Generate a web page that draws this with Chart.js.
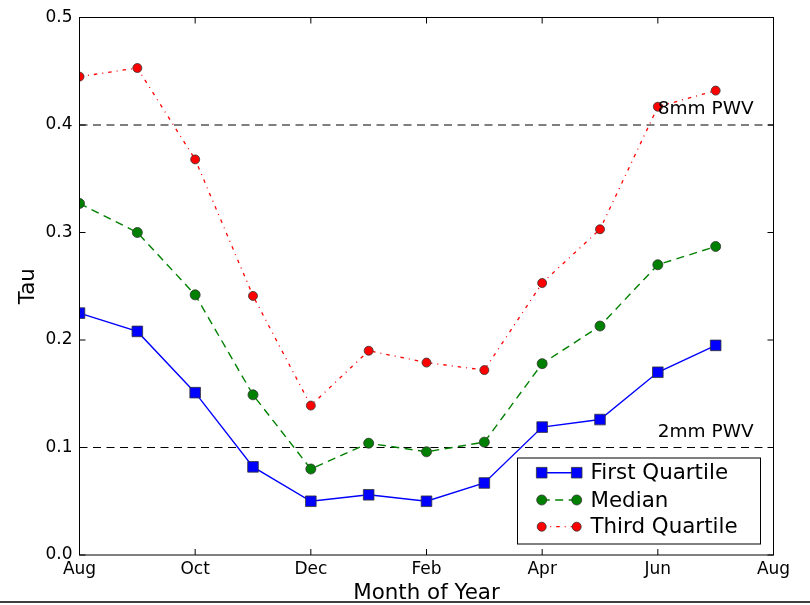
<!DOCTYPE html>
<html><head><meta charset="utf-8">
<script src="https://cdn.jsdelivr.net/npm/chart.js@4.4.0/dist/chart.umd.min.js"></script>
<style>html,body{margin:0;padding:0;background:#fff;}canvas{display:block}</style>
</head><body>
<canvas id="c" width="810" height="605"></canvas>
<script>
// ---- data ----
const monthIndex = [0,1,2,3,4,5,6,7,8,9,10,11];   // Aug ... Jul
const monthNames = ['Aug','Sep','Oct','Nov','Dec','Jan','Feb','Mar','Apr','May','Jun','Jul'];
const xTickLabels = ['Aug','Oct','Dec','Feb','Apr','Jun','Aug'];
const firstQuartile = [0.225,0.208,0.151,0.082,0.050,0.056,0.050,0.067,0.119,0.126,0.170,0.195];
const median        = [0.327,0.300,0.242,0.149,0.080,0.104,0.096,0.105,0.178,0.213,0.270,0.287];
const thirdQuartile = [0.445,0.453,0.368,0.241,0.139,0.190,0.179,0.172,0.253,0.303,0.417,0.432];
const pwvLevels = [0.1, 0.4];
const pwvLabels = ['2mm PWV', '8mm PWV'];
const pwvLabelX = 10; // Jun
const seriesNames = ['First Quartile','Median','Third Quartile'];

const FONT = "'DejaVu Sans', sans-serif";
const pts = arr => arr.map((v,i)=>({x: monthIndex[i], y: v}));

const series = [
  {label: seriesNames[0], data: pts(firstQuartile), borderColor:'#0000ff', backgroundColor:'#0000ff',
   pointBackgroundColor:'#0000ff', pointStyle:'rect', pointRadius:7.5, borderDash:[], borderWidth:1.4},
  {label: seriesNames[1], data: pts(median), borderColor:'#008000', backgroundColor:'#008000',
   pointBackgroundColor:'#008000', pointStyle:'circle', pointRadius:5, borderDash:[8,5.5], borderWidth:1.4},
  {label: seriesNames[2], data: pts(thirdQuartile), borderColor:'#ff0000', backgroundColor:'#ff0000',
   pointBackgroundColor:'#ff0000', pointStyle:'circle', pointRadius:4.5, borderDash:[3.5,5,1,5], borderWidth:1.3}
].map(d=>Object.assign(d,{pointBorderColor:'#333', pointBorderWidth:0.8, pointHoverRadius:d.pointRadius, tension:0, fill:false, order:0}));

const refLines = pwvLevels.map((v,i)=>({
  label: pwvLabels[i], data:[{x:0,y:v},{x:12,y:v}], borderColor:'#000', borderWidth:1.2,
  borderDash:[8,5.5], pointRadius:0, fill:false, order:5, isRef:true
}));

const decor = {
  id:'decor',
  afterDraw(chart){
    const ctx = chart.ctx, a = chart.chartArea;
    const xs = chart.scales.x, ys = chart.scales.y;
    ctx.save();
    // frame
    ctx.strokeStyle = '#000'; ctx.lineWidth = 1; ctx.setLineDash([]);
    ctx.strokeRect(a.left, a.top, a.right-a.left, a.bottom-a.top);
    // inward ticks on all sides
    const tl = 6;
    ctx.beginPath();
    xs.ticks.forEach(t=>{
      const px = xs.getPixelForValue(t.value);
      ctx.moveTo(px, a.bottom); ctx.lineTo(px, a.bottom - tl);
      ctx.moveTo(px, a.top); ctx.lineTo(px, a.top + tl);
    });
    ys.ticks.forEach(t=>{
      const py = ys.getPixelForValue(t.value);
      ctx.moveTo(a.left, py); ctx.lineTo(a.left + tl, py);
      ctx.moveTo(a.right, py); ctx.lineTo(a.right - tl, py);
    });
    ctx.stroke();
    // PWV labels
    ctx.fillStyle = '#000';
    ctx.font = '18.5px ' + FONT;
    ctx.textAlign = 'left'; ctx.textBaseline = 'alphabetic';
    pwvLevels.forEach((v,i)=>{
      ctx.fillText(pwvLabels[i], xs.getPixelForValue(pwvLabelX), ys.getPixelForValue(v) - 11);
    });
    // legend
    const bx = 517.5, by = 458, bw = 243, bh = 86;
    ctx.fillStyle = '#fff';
    ctx.fillRect(bx, by, bw, bh);
    ctx.strokeStyle = '#000'; ctx.lineWidth = 1;
    ctx.strokeRect(bx, by, bw, bh);
    const rows = [472.7, 500, 526.7];
    const m1 = 541.7, m2 = 576.7, tx = 590.5;
    series.forEach((d,i)=>{
      const y = rows[i];
      ctx.save();
      ctx.strokeStyle = d.borderColor; ctx.lineWidth = d.borderWidth;
      ctx.setLineDash(d.borderDash);
      ctx.beginPath(); ctx.moveTo(m1, y); ctx.lineTo(m2, y); ctx.stroke();
      ctx.setLineDash([]);
      [m1,m2].forEach(mx=>{
        ctx.fillStyle = d.pointBackgroundColor; ctx.strokeStyle = d.pointBorderColor; ctx.lineWidth = d.pointBorderWidth;
        Chart.helpers.drawPoint(ctx, {pointStyle:d.pointStyle, radius:d.pointRadius, borderWidth:d.pointBorderWidth, rotation:0}, mx, y);
      });
      ctx.restore();
      ctx.fillStyle = '#000'; ctx.font = '21.4px ' + FONT;
      ctx.textAlign = 'left'; ctx.textBaseline = 'middle';
      ctx.fillText(d.label, tx, y + 1);
    });
    // bottom rule of the picture
    ctx.strokeStyle = '#000'; ctx.lineWidth = 1.5;
    ctx.beginPath(); ctx.moveTo(0, 602); ctx.lineTo(810, 602); ctx.stroke();
    ctx.restore();
  }
};

new Chart(document.getElementById('c'), {
  type:'line',
  data:{ datasets: series.concat(refLines) },
  options:{
    responsive:false, animation:false, devicePixelRatio:1,
    layout:{ padding:{ top:17.5, right:36.5, left:0, bottom:0 } },
    plugins:{ legend:{display:false}, tooltip:{enabled:false} },
    scales:{
      x:{ type:'linear', min:0, max:12,
          grid:{display:false, drawTicks:false}, border:{display:false},
          ticks:{ stepSize:2, autoSkip:false, padding:4, color:'#000', font:{family:FONT, size:17},
                  callback:(v)=> xTickLabels[v/2] },
          title:{ display:true, text:'Month of Year', color:'#000', font:{family:FONT, size:21.4}, padding:{top:0,bottom:-1} },
          afterFit:(s)=>{ s.height = 50; } },
      y:{ type:'linear', min:0, max:0.5,
          grid:{display:false, drawTicks:false}, border:{display:false},
          ticks:{ stepSize:0.1, padding:7, color:'#000', font:{family:FONT, size:17},
                  callback:(v)=> v.toFixed(1) },
          title:{ display:true, text:'Tau', color:'#000', font:{family:FONT, size:21.4}, padding:{top:16,bottom:0} },
          afterFit:(s)=>{ s.width = 79.5; } }
    }
  },
  plugins:[decor]
});
</script>
</body></html>
